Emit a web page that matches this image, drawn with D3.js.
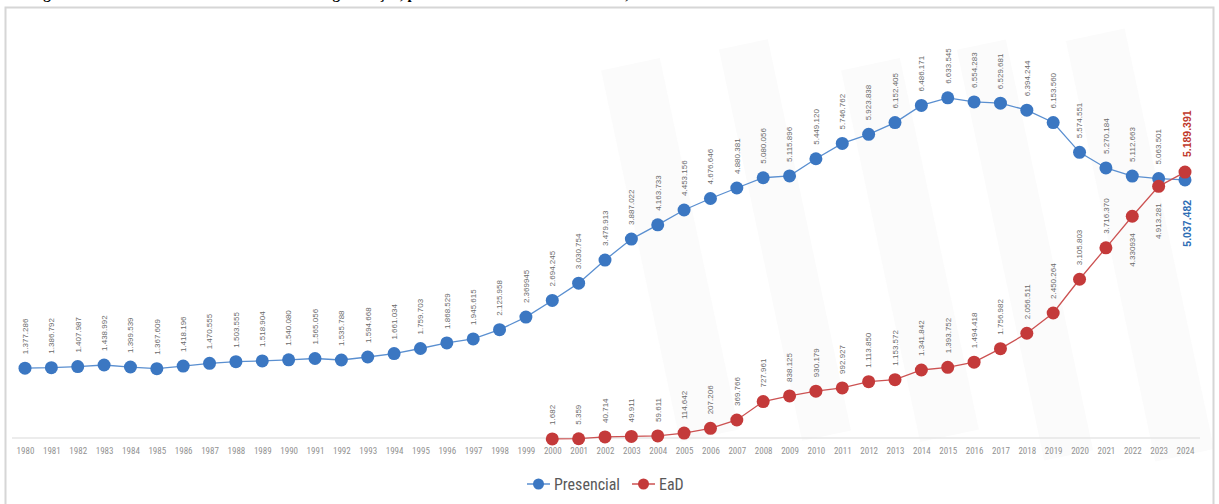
<!DOCTYPE html>
<html><head><meta charset="utf-8">
<script src="https://cdn.jsdelivr.net/npm/d3@7"></script>
<style>
html,body{margin:0;padding:0;background:#fff;overflow:hidden}
svg{display:block}
</style></head>
<body>
<svg id="chart" width="1219" height="504"></svg>
<script>
const years = d3.range(1980, 2025);
const presencial = [1377286,1386792,1407987,1438992,1399539,1367609,1418196,1470555,1503555,1518904,
  1540080,1565056,1535788,1594668,1661034,1759703,1868529,1945615,2125958,2369945,
  2694245,3030754,3479913,3887022,4163733,4453156,4676646,4880381,5080056,5115896,
  5449120,5746762,5923838,6152405,6486171,6633545,6554283,6529681,6394244,6153560,
  5574551,5270184,5112663,5063501,5037482];
const eadYears = d3.range(2000, 2025);
const ead = [1682,5359,40714,49911,59611,114642,207206,369766,727961,838125,
  930179,992927,1113850,1153572,1341842,1393752,1494418,1756982,2056511,2450264,
  3105803,3716370,4330934,4913281,5189391];
const presLabels = ["1.377.286","1.386.792","1.407.987","1.438.992","1.399.539","1.367.609","1.418.196","1.470.555","1.503.555","1.518.904",
  "1.540.080","1.565.056","1.535.788","1.594.668","1.661.034","1.759.703","1.868.529","1.945.615","2.125.958","2.369945",
  "2.694.245","3.030.754","3.479.913","3.887.022","4.163.733","4.453.156","4.676.646","4.880.381","5.080.056","5.115.896",
  "5.449.120","5.746.762","5.923.838","6.152.405","6.486.171","6.633.545","6.554.283","6.529.681","6.394.244","6.153.560",
  "5.574.551","5.270.184","5.112.663","5.063.501","5.037.482"];
const eadLabels = ["1.682","5.359","40.714","49.911","59.611","114.642","207.206","369.766","727.961","838.125",
  "930.179","992.927","1.113.850","1.153.572","1.341.842","1.393.752","1.494.418","1.756.982","2.056.511","2.450.264",
  "3.105.803","3.716.370","4.330934","4.913.281","5.189.391"];
const seriesNames = ["Presencial", "EaD"];
const title = "Figura 1 – Número de matrículas em cursos de graduação, por modalidade de ensino – Brasil, 1980-2024";

const blue = "#3b77c2", blueLine = "#5a8fd0";
const red = "#c43a3a", redLine = "#cc5252";

const svg = d3.select("#chart");

// title (cropped at top of picture, as in the reference)
svg.append("text").attr("x", 30).attr("y", -1)
  .attr("font-family", "'Liberation Serif', 'Times New Roman', serif")
  .attr("font-weight", "bold").attr("font-size", 15).attr("fill", "#000").text(title);

// very faint watermark blocks
const wm = svg.append("g").attr("fill", "#fbfbfb");
[[640,60,60,380,-12],[760,40,50,400,-12],[880,60,60,380,-12],[1000,40,50,420,-12],[1110,30,60,430,-12]]
  .forEach(([x,y,w,h,r]) => wm.append("rect").attr("x", x).attr("y", y).attr("width", w).attr("height", h)
  .attr("transform", `rotate(${r},${x+w/2},${y+h/2})`));

// frame
svg.append("path").attr("d", "M5.5,504 V7.5 H1213.5 V504")
  .attr("fill", "none").attr("stroke", "#d6d6d6").attr("stroke-width", 2);

const x = d3.scalePoint().domain(years).range([25, 1185]);
const y = d3.scaleLinear().domain([0, 7000000]).range([439, 79]);

// x axis
const ax = svg.append("g").attr("transform", "translate(0,438)")
  .call(d3.axisBottom(x).tickSize(0).tickPadding(10).tickSizeOuter(0));
ax.select(".domain").attr("stroke", "#e6e6e6").attr("stroke-width", 1.5).attr("d", "M12,0H1200");
ax.selectAll("text").attr("font-family", "'Liberation Sans Narrow', 'Roboto Condensed', 'Liberation Sans', Arial, sans-serif")
  .attr("font-size", 9).attr("fill", "#929292");

const line = d3.line().x(d => x(d[0])).y(d => y(d[1]));
const presData = years.map((yr, i) => [yr, presencial[i], presLabels[i]]);
const eadData = eadYears.map((yr, i) => [yr, ead[i], eadLabels[i]]);

svg.append("path").datum(presData).attr("d", line).attr("fill", "none").attr("stroke", blueLine).attr("stroke-width", 1.3);
svg.append("path").datum(eadData).attr("d", line).attr("fill", "none").attr("stroke", redLine).attr("stroke-width", 1.3);

svg.append("g").selectAll("circle").data(presData).join("circle")
  .attr("cx", d => x(d[0])).attr("cy", d => y(d[1])).attr("r", 6.5).attr("fill", blue);
svg.append("g").selectAll("circle").data(eadData).join("circle")
  .attr("cx", d => x(d[0])).attr("cy", d => y(d[1])).attr("r", 6.5).attr("fill", red);

const lblFont = "'Liberation Sans', Arial, sans-serif";
function addLabels(data, below, highlight, color) {
  const g = svg.append("g");
  data.forEach(d => {
    const isBelow = below.includes(d[0]);
    const isHi = d[0] === highlight;
    const cx = x(d[0]) + (isHi ? 2 : 0), cy = y(d[1]);
    const off = isHi ? (isBelow ? 20 : 15) : (isBelow ? 17 : 14);
    const ty = isBelow ? cy + off : cy - off;
    g.append("text")
      .attr("transform", `translate(${cx},${ty}) rotate(-90)`)
      .attr("dy", "0.35em")
      .attr("text-anchor", isBelow ? "end" : "start")
      .attr("font-family", lblFont)
      .attr("font-size", isHi ? 10.5 : 8)
      .attr("font-weight", isHi ? "bold" : "normal")
      .attr("fill", isHi ? color : "#6a6a6a")
      .text(d[2]);
  });
}
addLabels(presData, [2024], 2024, "#2e6db4");
addLabels(eadData, [2022, 2023], 2024, "#c0392b");

// legend
const legend = svg.append("g").attr("font-family", "'Liberation Sans Narrow', 'Roboto Condensed', Arial, sans-serif")
  .attr("font-size", 16).attr("fill", "#595959");
const legItems = [{name: seriesNames[0], x0: 527, color: blue, lc: blueLine}, {name: seriesNames[1], x0: 632, color: red, lc: redLine}];
legItems.forEach(it => {
  legend.append("line").attr("x1", it.x0).attr("x2", it.x0 + 23).attr("y1", 484).attr("y2", 484)
    .attr("stroke", it.lc).attr("stroke-width", 1.5);
  legend.append("circle").attr("cx", it.x0 + 11.5).attr("cy", 484).attr("r", 5.5).attr("fill", it.color);
  legend.append("text").attr("x", it.x0 + 27).attr("y", 484).attr("dy", "0.36em").attr("fill", "#595959").text(it.name);
});
</script>
</body></html>
